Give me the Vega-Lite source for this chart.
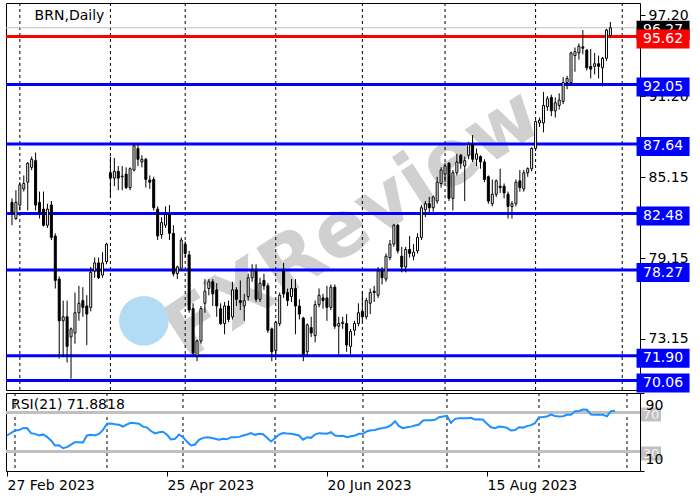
{
"$schema": "https://vega.github.io/schema/vega-lite/v6.json",
"padding": {"left": 2, "top": 2, "right": 0, "bottom": 0},
"background": "#ffffff",
"spacing": 3,
"bounds": "flush",
"config": {"font": "DejaVu Sans", "view": {"stroke": "#000000", "strokeWidth": 1}, "axis": {"labelFont": "DejaVu Sans", "labelFontSize": 14, "labelColor": "#000000", "tickColor": "#000000", "domain": false, "grid": false}},
"datasets": {
"bars": [
{"i":0,"date":"2023-02-27","o":83.3,"h":83.6,"l":81.6,"c":82.5,"rsi":46.4},
{"i":1,"date":"2023-02-28","o":82.1,"h":84.2,"l":82.0,"c":83.3,"rsi":49.0},
{"i":2,"date":"2023-03-01","o":83.1,"h":84.8,"l":82.7,"c":84.6,"rsi":51.5},
{"i":3,"date":"2023-03-02","o":84.3,"h":85.3,"l":84.1,"c":84.7,"rsi":52.0},
{"i":4,"date":"2023-03-03","o":84.8,"h":86.3,"l":82.7,"c":86.2,"rsi":53.9},
{"i":5,"date":"2023-03-06","o":85.9,"h":86.7,"l":85.7,"c":86.5,"rsi":54.0},
{"i":6,"date":"2023-03-07","o":86.4,"h":87.0,"l":82.7,"c":83.1,"rsi":48.8},
{"i":7,"date":"2023-03-08","o":83.3,"h":84.1,"l":82.1,"c":82.6,"rsi":48.1},
{"i":8,"date":"2023-03-09","o":82.8,"h":84.1,"l":81.5,"c":81.6,"rsi":46.5},
{"i":9,"date":"2023-03-10","o":81.6,"h":83.2,"l":81.4,"c":82.8,"rsi":47.5},
{"i":10,"date":"2023-03-13","o":83.1,"h":83.4,"l":80.5,"c":80.7,"rsi":45.0},
{"i":11,"date":"2023-03-14","o":80.8,"h":81.0,"l":76.9,"c":77.5,"rsi":41.3},
{"i":12,"date":"2023-03-15","o":77.6,"h":77.8,"l":71.7,"c":74.5,"rsi":36.2},
{"i":13,"date":"2023-03-16","o":74.5,"h":76.0,"l":71.8,"c":74.8,"rsi":36.5},
{"i":14,"date":"2023-03-17","o":74.8,"h":76.0,"l":71.4,"c":72.6,"rsi":33.4},
{"i":15,"date":"2023-03-20","o":73.3,"h":74.0,"l":70.2,"c":73.9,"rsi":34.5},
{"i":16,"date":"2023-03-21","o":73.6,"h":76.6,"l":72.8,"c":75.1,"rsi":37.0},
{"i":17,"date":"2023-03-22","o":75.1,"h":77.1,"l":74.5,"c":75.8,"rsi":39.5},
{"i":18,"date":"2023-03-23","o":76.0,"h":77.0,"l":74.8,"c":75.5,"rsi":39.5},
{"i":19,"date":"2023-03-24","o":75.6,"h":76.4,"l":72.7,"c":75.0,"rsi":39.3},
{"i":20,"date":"2023-03-27","o":75.5,"h":78.5,"l":75.2,"c":78.1,"rsi":46.4},
{"i":21,"date":"2023-03-28","o":78.2,"h":79.2,"l":77.7,"c":78.8,"rsi":47.1},
{"i":22,"date":"2023-03-29","o":78.8,"h":79.2,"l":77.6,"c":77.7,"rsi":46.5},
{"i":23,"date":"2023-03-30","o":77.9,"h":79.6,"l":77.7,"c":78.8,"rsi":48.1},
{"i":24,"date":"2023-03-31","o":78.9,"h":80.3,"l":78.7,"c":80.2,"rsi":52.2},
{"i":25,"date":"2023-04-03","o":85.5,"h":86.7,"l":83.7,"c":85.1,"rsi":58.4},
{"i":26,"date":"2023-04-04","o":85.1,"h":86.6,"l":84.5,"c":85.6,"rsi":58.8},
{"i":27,"date":"2023-04-05","o":85.6,"h":86.0,"l":84.2,"c":85.1,"rsi":58.0},
{"i":28,"date":"2023-04-06","o":85.2,"h":86.0,"l":84.2,"c":85.25,"rsi":57.4},
{"i":29,"date":"2023-04-10","o":85.4,"h":85.9,"l":84.3,"c":84.4,"rsi":55.6},
{"i":30,"date":"2023-04-11","o":84.4,"h":85.9,"l":84.2,"c":85.8,"rsi":57.8},
{"i":31,"date":"2023-04-12","o":85.7,"h":87.7,"l":85.6,"c":87.5,"rsi":59.4},
{"i":32,"date":"2023-04-13","o":87.3,"h":87.6,"l":86.0,"c":86.5,"rsi":59.0},
{"i":33,"date":"2023-04-14","o":86.3,"h":86.8,"l":85.9,"c":86.5,"rsi":58.5},
{"i":34,"date":"2023-04-17","o":86.5,"h":86.6,"l":84.4,"c":85.0,"rsi":55.5},
{"i":35,"date":"2023-04-18","o":84.95,"h":85.3,"l":84.3,"c":84.8,"rsi":54.5},
{"i":36,"date":"2023-04-19","o":85.0,"h":85.2,"l":82.7,"c":82.9,"rsi":51.0},
{"i":37,"date":"2023-04-20","o":82.8,"h":83.0,"l":80.5,"c":80.8,"rsi":48.5},
{"i":38,"date":"2023-04-21","o":80.9,"h":82.2,"l":80.6,"c":81.8,"rsi":49.8},
{"i":39,"date":"2023-04-24","o":81.6,"h":83.0,"l":81.4,"c":82.4,"rsi":50.3},
{"i":40,"date":"2023-04-25","o":82.4,"h":83.1,"l":80.5,"c":81.0,"rsi":47.1},
{"i":41,"date":"2023-04-26","o":81.0,"h":81.6,"l":77.8,"c":78.0,"rsi":42.3},
{"i":42,"date":"2023-04-27","o":78.0,"h":78.6,"l":77.6,"c":78.5,"rsi":43.0},
{"i":43,"date":"2023-04-28","o":78.4,"h":80.7,"l":78.2,"c":80.5,"rsi":47.4},
{"i":44,"date":"2023-05-01","o":80.2,"h":80.4,"l":79.2,"c":79.5,"rsi":44.7},
{"i":45,"date":"2023-05-02","o":79.4,"h":79.7,"l":75.1,"c":75.3,"rsi":40.0},
{"i":46,"date":"2023-05-03","o":75.4,"h":75.8,"l":72.0,"c":72.1,"rsi":36.2},
{"i":47,"date":"2023-05-04","o":71.9,"h":73.1,"l":71.5,"c":73.0,"rsi":37.2},
{"i":48,"date":"2023-05-05","o":73.0,"h":75.6,"l":72.8,"c":75.4,"rsi":42.0},
{"i":49,"date":"2023-05-08","o":75.8,"h":77.6,"l":75.1,"c":76.7,"rsi":44.0},
{"i":50,"date":"2023-05-09","o":76.9,"h":77.6,"l":76.4,"c":77.4,"rsi":44.5},
{"i":51,"date":"2023-05-10","o":77.4,"h":77.6,"l":75.6,"c":76.5,"rsi":44.0},
{"i":52,"date":"2023-05-11","o":76.8,"h":77.3,"l":74.8,"c":75.6,"rsi":43.0},
{"i":53,"date":"2023-05-12","o":75.4,"h":75.8,"l":74.2,"c":74.3,"rsi":42.0},
{"i":54,"date":"2023-05-15","o":74.3,"h":75.9,"l":73.5,"c":75.6,"rsi":43.0},
{"i":55,"date":"2023-05-16","o":75.6,"h":76.0,"l":74.4,"c":74.6,"rsi":42.5},
{"i":56,"date":"2023-05-17","o":74.8,"h":77.4,"l":74.6,"c":76.8,"rsi":44.7},
{"i":57,"date":"2023-05-18","o":76.8,"h":77.0,"l":75.6,"c":76.1,"rsi":44.5},
{"i":58,"date":"2023-05-19","o":76.0,"h":77.5,"l":75.3,"c":75.85,"rsi":45.0},
{"i":59,"date":"2023-05-22","o":75.6,"h":76.5,"l":74.5,"c":76.0,"rsi":46.4},
{"i":60,"date":"2023-05-23","o":76.3,"h":78.0,"l":76.0,"c":77.7,"rsi":47.5},
{"i":61,"date":"2023-05-24","o":77.7,"h":78.7,"l":77.4,"c":78.2,"rsi":48.8},
{"i":62,"date":"2023-05-25","o":78.2,"h":78.7,"l":75.9,"c":76.1,"rsi":47.1},
{"i":63,"date":"2023-05-26","o":76.1,"h":77.7,"l":75.9,"c":77.3,"rsi":48.1},
{"i":64,"date":"2023-05-29","o":77.5,"h":78.0,"l":76.8,"c":77.1,"rsi":47.8},
{"i":65,"date":"2023-05-30","o":77.1,"h":77.3,"l":73.6,"c":73.8,"rsi":44.0},
{"i":66,"date":"2023-05-31","o":73.9,"h":74.0,"l":71.5,"c":72.2,"rsi":40.3},
{"i":67,"date":"2023-06-01","o":72.3,"h":74.5,"l":71.9,"c":74.4,"rsi":43.5},
{"i":68,"date":"2023-06-02","o":74.3,"h":76.6,"l":74.1,"c":76.4,"rsi":47.4},
{"i":69,"date":"2023-06-05","o":78.2,"h":78.8,"l":76.2,"c":76.5,"rsi":49.0},
{"i":70,"date":"2023-06-06","o":76.6,"h":76.9,"l":75.6,"c":76.0,"rsi":48.5},
{"i":71,"date":"2023-06-07","o":76.3,"h":77.6,"l":75.9,"c":76.9,"rsi":48.1},
{"i":72,"date":"2023-06-08","o":76.9,"h":77.6,"l":73.5,"c":75.6,"rsi":47.5},
{"i":73,"date":"2023-06-09","o":75.6,"h":76.1,"l":74.6,"c":75.0,"rsi":46.4},
{"i":74,"date":"2023-06-12","o":74.7,"h":74.8,"l":71.5,"c":72.0,"rsi":42.0},
{"i":75,"date":"2023-06-13","o":72.2,"h":74.3,"l":71.9,"c":74.2,"rsi":44.5},
{"i":76,"date":"2023-06-14","o":74.0,"h":74.8,"l":73.3,"c":73.6,"rsi":44.0},
{"i":77,"date":"2023-06-15","o":73.4,"h":76.0,"l":72.9,"c":75.7,"rsi":47.4},
{"i":78,"date":"2023-06-16","o":75.7,"h":76.9,"l":75.5,"c":76.4,"rsi":48.8},
{"i":79,"date":"2023-06-19","o":76.2,"h":76.5,"l":75.4,"c":76.0,"rsi":48.5},
{"i":80,"date":"2023-06-20","o":76.2,"h":77.1,"l":74.5,"c":75.5,"rsi":48.2},
{"i":81,"date":"2023-06-21","o":75.5,"h":77.2,"l":75.3,"c":77.0,"rsi":49.8},
{"i":82,"date":"2023-06-22","o":77.0,"h":77.2,"l":73.9,"c":74.1,"rsi":46.4},
{"i":83,"date":"2023-06-23","o":74.1,"h":74.8,"l":72.0,"c":74.3,"rsi":46.0},
{"i":84,"date":"2023-06-26","o":74.3,"h":74.8,"l":73.9,"c":74.4,"rsi":46.2},
{"i":85,"date":"2023-06-27","o":74.3,"h":75.0,"l":72.2,"c":72.7,"rsi":44.7},
{"i":86,"date":"2023-06-28","o":72.6,"h":73.9,"l":72.0,"c":73.7,"rsi":45.7},
{"i":87,"date":"2023-06-29","o":73.8,"h":74.5,"l":73.4,"c":74.3,"rsi":46.4},
{"i":88,"date":"2023-06-30","o":74.3,"h":75.8,"l":74.1,"c":75.1,"rsi":48.1},
{"i":89,"date":"2023-07-03","o":75.2,"h":76.7,"l":74.4,"c":74.8,"rsi":48.1},
{"i":90,"date":"2023-07-04","o":74.8,"h":76.2,"l":74.6,"c":76.0,"rsi":50.8},
{"i":91,"date":"2023-07-05","o":75.8,"h":76.9,"l":75.0,"c":76.6,"rsi":51.8},
{"i":92,"date":"2023-07-06","o":76.7,"h":77.1,"l":75.9,"c":76.6,"rsi":52.0},
{"i":93,"date":"2023-07-07","o":76.4,"h":78.5,"l":76.2,"c":78.2,"rsi":53.3},
{"i":94,"date":"2023-07-10","o":78.2,"h":78.5,"l":77.2,"c":77.7,"rsi":54.0},
{"i":95,"date":"2023-07-11","o":77.6,"h":79.5,"l":77.4,"c":79.3,"rsi":54.9},
{"i":96,"date":"2023-07-12","o":79.2,"h":80.5,"l":79.0,"c":80.2,"rsi":57.0},
{"i":97,"date":"2023-07-13","o":80.2,"h":81.7,"l":80.0,"c":81.6,"rsi":61.1},
{"i":98,"date":"2023-07-14","o":81.6,"h":81.7,"l":79.5,"c":79.7,"rsi":56.0},
{"i":99,"date":"2023-07-17","o":79.3,"h":80.0,"l":78.1,"c":78.5,"rsi":53.9},
{"i":100,"date":"2023-07-18","o":78.5,"h":80.0,"l":78.1,"c":79.8,"rsi":54.9},
{"i":101,"date":"2023-07-19","o":79.8,"h":80.8,"l":79.2,"c":79.5,"rsi":55.5},
{"i":102,"date":"2023-07-20","o":79.3,"h":80.2,"l":79.0,"c":79.6,"rsi":56.7},
{"i":103,"date":"2023-07-21","o":79.7,"h":81.0,"l":79.5,"c":80.7,"rsi":57.7},
{"i":104,"date":"2023-07-24","o":80.7,"h":83.1,"l":80.5,"c":82.9,"rsi":61.8},
{"i":105,"date":"2023-07-25","o":82.75,"h":83.4,"l":82.2,"c":83.2,"rsi":62.0},
{"i":106,"date":"2023-07-26","o":83.2,"h":83.7,"l":82.5,"c":82.9,"rsi":62.0},
{"i":107,"date":"2023-07-27","o":82.9,"h":83.8,"l":82.6,"c":83.7,"rsi":62.5},
{"i":108,"date":"2023-07-28","o":83.4,"h":85.2,"l":83.2,"c":84.8,"rsi":65.2},
{"i":109,"date":"2023-07-31","o":84.7,"h":85.9,"l":84.4,"c":85.7,"rsi":66.0},
{"i":110,"date":"2023-08-01","o":85.4,"h":86.2,"l":84.8,"c":86.0,"rsi":66.6},
{"i":111,"date":"2023-08-02","o":86.2,"h":86.3,"l":83.4,"c":83.6,"rsi":59.4},
{"i":112,"date":"2023-08-03","o":83.6,"h":85.7,"l":82.7,"c":85.5,"rsi":63.5},
{"i":113,"date":"2023-08-04","o":85.5,"h":86.9,"l":85.3,"c":86.3,"rsi":64.0},
{"i":114,"date":"2023-08-07","o":86.8,"h":86.9,"l":85.8,"c":86.2,"rsi":64.0},
{"i":115,"date":"2023-08-08","o":86.0,"h":86.7,"l":83.4,"c":86.4,"rsi":64.0},
{"i":116,"date":"2023-08-09","o":86.8,"h":87.8,"l":86.5,"c":87.6,"rsi":64.6},
{"i":117,"date":"2023-08-10","o":87.6,"h":88.3,"l":86.3,"c":86.5,"rsi":62.8},
{"i":118,"date":"2023-08-11","o":86.5,"h":87.3,"l":86.0,"c":86.9,"rsi":63.0},
{"i":119,"date":"2023-08-14","o":86.7,"h":86.8,"l":85.8,"c":86.3,"rsi":62.5},
{"i":120,"date":"2023-08-15","o":86.3,"h":86.5,"l":84.8,"c":85.0,"rsi":58.5},
{"i":121,"date":"2023-08-16","o":85.2,"h":85.3,"l":83.2,"c":83.4,"rsi":54.9},
{"i":122,"date":"2023-08-17","o":83.2,"h":85.0,"l":83.0,"c":83.9,"rsi":53.9},
{"i":123,"date":"2023-08-18","o":83.9,"h":85.0,"l":83.7,"c":84.9,"rsi":55.6},
{"i":124,"date":"2023-08-21","o":84.5,"h":85.8,"l":84.0,"c":84.4,"rsi":55.2},
{"i":125,"date":"2023-08-22","o":84.5,"h":84.7,"l":83.6,"c":84.0,"rsi":54.3},
{"i":126,"date":"2023-08-23","o":83.9,"h":84.1,"l":82.1,"c":83.0,"rsi":51.5},
{"i":127,"date":"2023-08-24","o":83.0,"h":83.4,"l":82.1,"c":83.2,"rsi":52.0},
{"i":128,"date":"2023-08-25","o":83.2,"h":85.0,"l":83.0,"c":84.8,"rsi":54.9},
{"i":129,"date":"2023-08-28","o":84.9,"h":85.7,"l":84.1,"c":84.4,"rsi":54.5},
{"i":130,"date":"2023-08-29","o":84.3,"h":85.7,"l":84.1,"c":85.5,"rsi":56.0},
{"i":131,"date":"2023-08-30","o":85.5,"h":85.9,"l":85.2,"c":85.8,"rsi":57.0},
{"i":132,"date":"2023-08-31","o":85.8,"h":87.4,"l":85.6,"c":87.3,"rsi":59.0},
{"i":133,"date":"2023-09-01","o":87.3,"h":89.4,"l":87.1,"c":89.3,"rsi":65.2},
{"i":134,"date":"2023-09-04","o":89.2,"h":89.6,"l":88.9,"c":89.4,"rsi":65.4},
{"i":135,"date":"2023-09-05","o":89.2,"h":91.5,"l":88.5,"c":90.5,"rsi":65.9},
{"i":136,"date":"2023-09-06","o":90.4,"h":91.2,"l":90.1,"c":91.0,"rsi":67.9},
{"i":137,"date":"2023-09-07","o":91.1,"h":91.3,"l":89.7,"c":90.1,"rsi":66.5},
{"i":138,"date":"2023-09-08","o":90.1,"h":91.1,"l":89.6,"c":90.7,"rsi":65.9},
{"i":139,"date":"2023-09-11","o":90.5,"h":91.4,"l":90.2,"c":90.9,"rsi":66.2},
{"i":140,"date":"2023-09-12","o":90.8,"h":92.6,"l":90.6,"c":92.2,"rsi":67.6},
{"i":141,"date":"2023-09-13","o":92.2,"h":92.7,"l":91.7,"c":92.5,"rsi":67.8},
{"i":142,"date":"2023-09-14","o":92.2,"h":94.5,"l":92.0,"c":94.4,"rsi":71.3},
{"i":143,"date":"2023-09-15","o":94.2,"h":94.8,"l":93.0,"c":94.5,"rsi":71.5},
{"i":144,"date":"2023-09-18","o":94.4,"h":95.1,"l":93.9,"c":94.9,"rsi":73.1},
{"i":145,"date":"2023-09-19","o":94.85,"h":96.1,"l":94.3,"c":94.75,"rsi":72.8},
{"i":146,"date":"2023-09-20","o":94.6,"h":94.7,"l":93.1,"c":93.3,"rsi":67.9},
{"i":147,"date":"2023-09-21","o":93.4,"h":94.7,"l":92.5,"c":93.2,"rsi":67.6},
{"i":148,"date":"2023-09-22","o":93.4,"h":94.4,"l":92.8,"c":93.6,"rsi":67.8},
{"i":149,"date":"2023-09-25","o":93.6,"h":94.2,"l":92.5,"c":93.4,"rsi":67.6},
{"i":150,"date":"2023-09-26","o":93.3,"h":94.1,"l":91.9,"c":94.0,"rsi":66.2},
{"i":151,"date":"2023-09-27","o":94.0,"h":96.2,"l":93.8,"c":96.1,"rsi":71.3},
{"i":152,"date":"2023-09-28","o":95.7,"h":96.7,"l":95.5,"c":96.27,"rsi":71.8818}
],
"levels": [
{"price":95.62,"role":"key"},{"price":92.05,"role":"level"},{"price":87.64,"role":"level"},{"price":82.48,"role":"level"},{"price":78.27,"role":"level"},{"price":71.90,"role":"level"},{"price":70.06,"role":"level"}
],
"months": [
{"month":"2023-03","i":2},{"month":"2023-04","i":25},{"month":"2023-05","i":44},{"month":"2023-06","i":67},{"month":"2023-07","i":89},{"month":"2023-08","i":110},{"month":"2023-09","i":133},{"month":"2023-10","i":155}
],
"rsiLevels": [{"level":70},{"level":30}]
},
"vconcat": [
{
"width": 634, "height": 387,
"layer": [
{"data": {"values": [{"note": "FXReview"}]},
 "mark": {"type": "text", "font": "DejaVu Sans", "fontSize": 78, "fontWeight": "bold", "angle": 327, "color": "#d0d0d0", "align": "center", "baseline": "middle"},
 "encoding": {"x": {"datum": 86.75, "type": "quantitative", "scale": {"domain": [-0.25, 158.25], "nice": false, "zero": false}, "axis": null},
  "y": {"datum": 81.6, "type": "quantitative", "scale": {"domain": [69.36, 98.11], "nice": false, "zero": false}, "axis": {"orient": "right", "values": [97.2, 91.2, 85.15, 79.15, 73.15], "format": ".2f", "tickSize": 5, "labelPadding": 3, "title": null, "labelOverlap": false, "labelFlush": false}},
  "text": {"field": "note"}}},
{"data": {"values": [{"note": "logo"}]},
 "mark": {"type": "point", "shape": "circle", "filled": true, "size": 2463, "color": "#b1dcf4", "opacity": 1},
 "encoding": {"x": {"datum": 33.5, "type": "quantitative", "scale": {"domain": [-0.25, 158.25], "nice": false, "zero": false}, "axis": null},
  "y": {"datum": 74.5, "type": "quantitative", "scale": {"domain": [69.36, 98.11], "nice": false, "zero": false}, "axis": {"orient": "right", "values": [97.2, 91.2, 85.15, 79.15, 73.15], "format": ".2f", "tickSize": 5, "labelPadding": 3, "title": null, "labelOverlap": false, "labelFlush": false}}}},
{"data": {"name": "months"},
 "mark": {"type": "rule", "color": "#000000", "strokeWidth": 1, "strokeDash": [3, 3]},
 "encoding": {"x": {"field": "i", "type": "quantitative", "scale": {"domain": [-0.25, 158.25], "nice": false, "zero": false}, "axis": null}}},
{"data": {"name": "bars"}, "transform": [{"filter": "datum.i == 152"}],
 "mark": {"type": "rule", "color": "#c0c0c0", "strokeWidth": 1},
 "encoding": {"y": {"field": "c", "type": "quantitative", "scale": {"domain": [69.36, 98.11], "nice": false, "zero": false}, "axis": {"orient": "right", "values": [97.2, 91.2, 85.15, 79.15, 73.15], "format": ".2f", "tickSize": 5, "labelPadding": 3, "title": null, "labelOverlap": false, "labelFlush": false}}}},
{"data": {"name": "levels"},
 "mark": {"type": "rule", "strokeWidth": 3},
 "encoding": {"y": {"field": "price", "type": "quantitative", "scale": {"domain": [69.36, 98.11], "nice": false, "zero": false}, "axis": {"orient": "right", "values": [97.2, 91.2, 85.15, 79.15, 73.15], "format": ".2f", "tickSize": 5, "labelPadding": 3, "title": null, "labelOverlap": false, "labelFlush": false}},
  "color": {"field": "role", "type": "nominal", "scale": {"domain": ["key", "level"], "range": ["#ff0000", "#0000ff"]}, "legend": null}}},
{"data": {"name": "bars"},
 "mark": {"type": "rule", "color": "#000000", "strokeWidth": 1},
 "encoding": {"x": {"field": "i", "type": "quantitative", "scale": {"domain": [-0.25, 158.25], "nice": false, "zero": false}, "axis": null},
  "y": {"field": "l", "type": "quantitative", "scale": {"domain": [69.36, 98.11], "nice": false, "zero": false}, "axis": {"orient": "right", "values": [97.2, 91.2, 85.15, 79.15, 73.15], "format": ".2f", "tickSize": 5, "labelPadding": 3, "title": null, "labelOverlap": false, "labelFlush": false}},
  "y2": {"field": "h"}}},
{"data": {"name": "bars"},
 "mark": {"type": "bar", "size": 2, "stroke": "#000000", "strokeWidth": 1},
 "encoding": {"x": {"field": "i", "type": "quantitative", "scale": {"domain": [-0.25, 158.25], "nice": false, "zero": false}, "axis": null},
  "y": {"field": "o", "type": "quantitative", "scale": {"domain": [69.36, 98.11], "nice": false, "zero": false}, "axis": {"orient": "right", "values": [97.2, 91.2, 85.15, 79.15, 73.15], "format": ".2f", "tickSize": 5, "labelPadding": 3, "title": null, "labelOverlap": false, "labelFlush": false}},
  "y2": {"field": "c"},
  "color": {"condition": {"test": "datum.c >= datum.o", "value": "#ffffff"}, "value": "#000000"}}},
{"data": {"values": [{"title": "BRN,Daily"}]},
 "mark": {"type": "text", "fontSize": 14, "align": "left", "baseline": "middle", "color": "#000000"},
 "encoding": {"x": {"datum": 5.75, "type": "quantitative", "scale": {"domain": [-0.25, 158.25], "nice": false, "zero": false}, "axis": null},
  "y": {"datum": 97.15, "type": "quantitative", "scale": {"domain": [69.36, 98.11], "nice": false, "zero": false}, "axis": {"orient": "right", "values": [97.2, 91.2, 85.15, 79.15, 73.15], "format": ".2f", "tickSize": 5, "labelPadding": 3, "title": null, "labelOverlap": false, "labelFlush": false}},
  "text": {"field": "title"}}},
{"data": {"name": "bars"}, "transform": [{"filter": "datum.i == 152"}],
 "mark": {"type": "point", "shape": "M-1,-0.358L1,-0.358L1,0.358L-1,0.358Z", "size": 2809, "filled": true, "color": "#000000", "opacity": 1, "yOffset": 2.5},
 "encoding": {"x": {"datum": 165.375, "type": "quantitative", "scale": {"domain": [-0.25, 158.25], "nice": false, "zero": false}, "axis": null},
  "y": {"field": "c", "type": "quantitative", "scale": {"domain": [69.36, 98.11], "nice": false, "zero": false}, "axis": {"orient": "right", "values": [97.2, 91.2, 85.15, 79.15, 73.15], "format": ".2f", "tickSize": 5, "labelPadding": 3, "title": null, "labelOverlap": false, "labelFlush": false}}}},
{"data": {"name": "bars"}, "transform": [{"filter": "datum.i == 152"}],
 "mark": {"type": "text", "fontSize": 14, "align": "center", "baseline": "middle", "color": "#ffffff", "yOffset": 2.5},
 "encoding": {"x": {"datum": 165.375, "type": "quantitative", "scale": {"domain": [-0.25, 158.25], "nice": false, "zero": false}, "axis": null},
  "y": {"field": "c", "type": "quantitative", "scale": {"domain": [69.36, 98.11], "nice": false, "zero": false}, "axis": {"orient": "right", "values": [97.2, 91.2, 85.15, 79.15, 73.15], "format": ".2f", "tickSize": 5, "labelPadding": 3, "title": null, "labelOverlap": false, "labelFlush": false}},
  "text": {"field": "c", "type": "quantitative", "format": ".2f"}}},
{"data": {"name": "levels"},
 "mark": {"type": "point", "shape": "M-1,-0.358L1,-0.358L1,0.358L-1,0.358Z", "size": 2809, "filled": true, "opacity": 1, "yOffset": 2.5},
 "encoding": {"x": {"datum": 165.375, "type": "quantitative", "scale": {"domain": [-0.25, 158.25], "nice": false, "zero": false}, "axis": null},
  "y": {"field": "price", "type": "quantitative", "scale": {"domain": [69.36, 98.11], "nice": false, "zero": false}, "axis": {"orient": "right", "values": [97.2, 91.2, 85.15, 79.15, 73.15], "format": ".2f", "tickSize": 5, "labelPadding": 3, "title": null, "labelOverlap": false, "labelFlush": false}},
  "color": {"field": "role", "type": "nominal", "scale": {"domain": ["key", "level"], "range": ["#ff0000", "#0000ff"]}, "legend": null}}},
{"data": {"name": "levels"},
 "mark": {"type": "text", "fontSize": 14, "align": "center", "baseline": "middle", "color": "#ffffff", "yOffset": 2.5},
 "encoding": {"x": {"datum": 165.375, "type": "quantitative", "scale": {"domain": [-0.25, 158.25], "nice": false, "zero": false}, "axis": null},
  "y": {"field": "price", "type": "quantitative", "scale": {"domain": [69.36, 98.11], "nice": false, "zero": false}, "axis": {"orient": "right", "values": [97.2, 91.2, 85.15, 79.15, 73.15], "format": ".2f", "tickSize": 5, "labelPadding": 3, "title": null, "labelOverlap": false, "labelFlush": false}},
  "text": {"field": "price", "type": "quantitative", "format": ".2f"}}}
]
},
{
"width": 634, "height": 78,
"layer": [
{"data": {"name": "months"},
 "mark": {"type": "rule", "color": "#000000", "strokeWidth": 1, "strokeDash": [3, 3]},
 "encoding": {"x": {"field": "i", "type": "quantitative", "scale": {"domain": [-0.25, 158.25], "nice": false, "zero": false},
   "axis": {"values": [0, 40, 80, 120], "labelExpr": "datum.value == 0 ? '27 Feb 2023' : datum.value == 40 ? '25 Apr 2023' : datum.value == 80 ? '20 Jun 2023' : '15 Aug 2023'", "labelAlign": "left", "tickSize": 5, "labelPadding": 2, "title": null, "labelFlush": false, "labelOverlap": false}}}},
{"data": {"name": "rsiLevels"},
 "mark": {"type": "rule", "color": "#c0c0c0", "strokeWidth": 3},
 "encoding": {"y": {"field": "level", "type": "quantitative", "scale": {"domain": [10, 90], "nice": false, "zero": false},
   "axis": {"orient": "right", "values": [10, 90], "format": "d", "tickSize": 4, "labelPadding": 1, "labelFlush": true, "labelFlushOffset": -5, "title": null, "labelOverlap": false, "zindex": 1}}}},
{"data": {"name": "bars"},
 "mark": {"type": "line", "color": "#1e90ff", "strokeWidth": 2},
 "encoding": {"x": {"field": "i", "type": "quantitative", "scale": {"domain": [-0.25, 158.25], "nice": false, "zero": false},
   "axis": {"values": [0, 40, 80, 120], "labelExpr": "datum.value == 0 ? '27 Feb 2023' : datum.value == 40 ? '25 Apr 2023' : datum.value == 80 ? '20 Jun 2023' : '15 Aug 2023'", "labelAlign": "left", "tickSize": 5, "labelPadding": 2, "title": null, "labelFlush": false, "labelOverlap": false}},
  "y": {"field": "rsi", "type": "quantitative", "scale": {"domain": [10, 90], "nice": false, "zero": false},
   "axis": {"orient": "right", "values": [10, 90], "format": "d", "tickSize": 4, "labelPadding": 1, "labelFlush": true, "labelFlushOffset": -5, "title": null, "labelOverlap": false, "zindex": 1}}}},
{"data": {"name": "bars"}, "transform": [{"filter": "datum.i == 152"}, {"calculate": "'RSI(21) ' + format(datum.rsi, '.4f')", "as": "label"}],
 "mark": {"type": "text", "fontSize": 14, "align": "left", "baseline": "middle", "color": "#000000"},
 "encoding": {"x": {"datum": 1, "type": "quantitative", "scale": {"domain": [-0.25, 158.25], "nice": false, "zero": false},
   "axis": {"values": [0, 40, 80, 120], "labelExpr": "datum.value == 0 ? '27 Feb 2023' : datum.value == 40 ? '25 Apr 2023' : datum.value == 80 ? '20 Jun 2023' : '15 Aug 2023'", "labelAlign": "left", "tickSize": 5, "labelPadding": 2, "title": null, "labelFlush": false, "labelOverlap": false}},
  "y": {"datum": 77.2, "type": "quantitative", "scale": {"domain": [10, 90], "nice": false, "zero": false},
   "axis": {"orient": "right", "values": [10, 90], "format": "d", "tickSize": 4, "labelPadding": 1, "labelFlush": true, "labelFlushOffset": -5, "title": null, "labelOverlap": false, "zindex": 1}},
  "text": {"field": "label"}}},
{"data": {"name": "rsiLevels"},
 "mark": {"type": "point", "shape": "M-1,-0.7L1,-0.7L1,0.7L-1,0.7Z", "size": 400, "filled": true, "color": "#c0c0c0", "opacity": 1, "yOffset": 2},
 "encoding": {"x": {"datum": 161, "type": "quantitative", "scale": {"domain": [-0.25, 158.25], "nice": false, "zero": false},
   "axis": {"values": [0, 40, 80, 120], "labelExpr": "datum.value == 0 ? '27 Feb 2023' : datum.value == 40 ? '25 Apr 2023' : datum.value == 80 ? '20 Jun 2023' : '15 Aug 2023'", "labelAlign": "left", "tickSize": 5, "labelPadding": 2, "title": null, "labelFlush": false, "labelOverlap": false}},
  "y": {"field": "level", "type": "quantitative", "scale": {"domain": [10, 90], "nice": false, "zero": false},
   "axis": {"orient": "right", "values": [10, 90], "format": "d", "tickSize": 4, "labelPadding": 1, "labelFlush": true, "labelFlushOffset": -5, "title": null, "labelOverlap": false, "zindex": 1}}}},
{"data": {"name": "rsiLevels"},
 "mark": {"type": "text", "fontSize": 13, "align": "center", "baseline": "middle", "color": "#f4f4f4", "yOffset": 2},
 "encoding": {"x": {"datum": 161, "type": "quantitative", "scale": {"domain": [-0.25, 158.25], "nice": false, "zero": false},
   "axis": {"values": [0, 40, 80, 120], "labelExpr": "datum.value == 0 ? '27 Feb 2023' : datum.value == 40 ? '25 Apr 2023' : datum.value == 80 ? '20 Jun 2023' : '15 Aug 2023'", "labelAlign": "left", "tickSize": 5, "labelPadding": 2, "title": null, "labelFlush": false, "labelOverlap": false}},
  "y": {"field": "level", "type": "quantitative", "scale": {"domain": [10, 90], "nice": false, "zero": false},
   "axis": {"orient": "right", "values": [10, 90], "format": "d", "tickSize": 4, "labelPadding": 1, "labelFlush": true, "labelFlushOffset": -5, "title": null, "labelOverlap": false, "zindex": 1}},
  "text": {"field": "level", "type": "quantitative"}}}
]
}
]
}
